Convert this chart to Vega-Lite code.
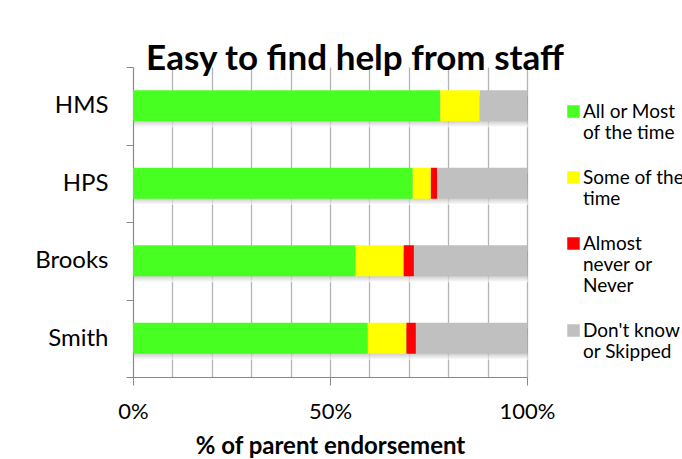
{
  "$schema": "https://vega.github.io/schema/vega-lite/v6.json",
  "width": 394,
  "height": 310,
  "autosize": "none",
  "padding": {"left": 133, "top": 67, "right": 155, "bottom": 82},
  "background": "white",
  "title": {
    "text": "Easy to find help from staff",
    "font": "Lato",
    "fontSize": 35,
    "fontWeight": "bold",
    "color": "black",
    "anchor": "middle",
    "dx": 25,
    "dy": 24,
    "offset": 2
  },
  "data": {
    "values": [
      {"school": "HMS", "response": "All or Most of the time", "order": 1, "pct": 0.78},
      {"school": "HMS", "response": "Some of the time", "order": 2, "pct": 0.10},
      {"school": "HMS", "response": "Almost never or Never", "order": 3, "pct": 0.0},
      {"school": "HMS", "response": "Don't know or Skipped", "order": 4, "pct": 0.12},
      {"school": "HPS", "response": "All or Most of the time", "order": 1, "pct": 0.71},
      {"school": "HPS", "response": "Some of the time", "order": 2, "pct": 0.046},
      {"school": "HPS", "response": "Almost never or Never", "order": 3, "pct": 0.016},
      {"school": "HPS", "response": "Don't know or Skipped", "order": 4, "pct": 0.228},
      {"school": "Brooks", "response": "All or Most of the time", "order": 1, "pct": 0.565},
      {"school": "Brooks", "response": "Some of the time", "order": 2, "pct": 0.122},
      {"school": "Brooks", "response": "Almost never or Never", "order": 3, "pct": 0.026},
      {"school": "Brooks", "response": "Don't know or Skipped", "order": 4, "pct": 0.287},
      {"school": "Smith", "response": "All or Most of the time", "order": 1, "pct": 0.596},
      {"school": "Smith", "response": "Some of the time", "order": 2, "pct": 0.098},
      {"school": "Smith", "response": "Almost never or Never", "order": 3, "pct": 0.024},
      {"school": "Smith", "response": "Don't know or Skipped", "order": 4, "pct": 0.282}
    ]
  },
  "encoding": {
    "y": {
      "field": "school",
      "type": "nominal",
      "sort": ["HMS", "HPS", "Brooks", "Smith"],
      "scale": {"paddingInner": 0, "paddingOuter": 0},
      "axis": {
        "title": null,
        "grid": false,
        "tickBand": "extent",
        "domainColor": "#888888",
        "tickColor": "#888888",
        "tickSize": 7,
        "labelPadding": 18,
        "labelFont": "Lato",
        "labelFontSize": 24,
        "labelColor": "black"
      }
    },
    "x": {
      "field": "pct",
      "type": "quantitative",
      "stack": "zero",
      "scale": {"domain": [0, 1], "nice": false},
      "axis": {
        "values": [0, 0.1, 0.2, 0.3, 0.4, 0.5, 0.6, 0.7, 0.8, 0.9, 1],
        "format": ".0%",
        "labelExpr": "datum.value == 0 || datum.value == 0.5 || datum.value == 1 ? datum.label : ''",
        "tickColor": {"expr": "datum.value == 0 || datum.value == 0.5 || datum.value == 1 ? '#888888' : 'transparent'"},
        "tickSize": 8,
        "labelPadding": 16,
        "labelFont": "Lato",
        "labelFontSize": 22,
        "labelColor": "black",
        "labelFlush": false,
        "domainColor": "#888888",
        "gridColor": "#b4b4b4",
        "gridWidth": 1.3,
        "title": "% of parent endorsement",
        "titleFont": "Lato",
        "titleFontSize": 24,
        "titleFontWeight": "bold",
        "titleColor": "black",
        "titlePadding": 12
      }
    },
    "order": {"field": "order", "type": "quantitative"}
  },
  "layer": [
    {
      "mark": {
        "type": "bar",
        "height": {"band": 0.4},
        "yOffset": 6,
        "xOffset": 1,
        "opacity": 0.7,
        "color": {
          "gradient": "linear",
          "x1": 0, "y1": 0, "x2": 0, "y2": 1,
          "stops": [
            {"offset": 0, "color": "#999999"},
            {"offset": 0.75, "color": "#a8a8a8"},
            {"offset": 1, "color": "#ffffff"}
          ]
        }
      },
      "encoding": {
        "detail": {"field": "response", "type": "nominal"}
      }
    },
    {
      "mark": {"type": "bar", "height": {"band": 0.4}},
      "encoding": {
        "color": {
          "field": "response",
          "type": "nominal",
          "scale": {
            "domain": ["All or Most of the time", "Some of the time", "Almost never or Never", "Don't know or Skipped"],
            "range": ["#47ff21", "#ffff00", "#ff0000", "#c0c0c0"]
          },
          "legend": {
            "title": null,
            "orient": "none",
            "legendX": 431,
            "legendY": 35,
            "padding": 0,
            "symbolType": "square",
            "symbolSize": 156,
            "symbolStrokeWidth": 0,
            "symbolOpacity": 1,
            "labelFont": "Lato",
            "labelFontSize": 19,
            "labelLineHeight": 23,
            "labelColor": "black",
            "labelOffset": 0,
            "labelLimit": 300,
            "rowPadding": 25,
            "labelExpr": "datum.label == 'All or Most of the time' ? ['All or Most', 'of the time'] : datum.label == 'Some of the time' ? ['Some of the', 'time'] : datum.label == 'Almost never or Never' ? ['Almost', 'never or', 'Never'] : ['Don\\'t know', 'or Skipped']"
          }
        }
      }
    }
  ],
  "config": {
    "view": {"stroke": null}
  }
}
